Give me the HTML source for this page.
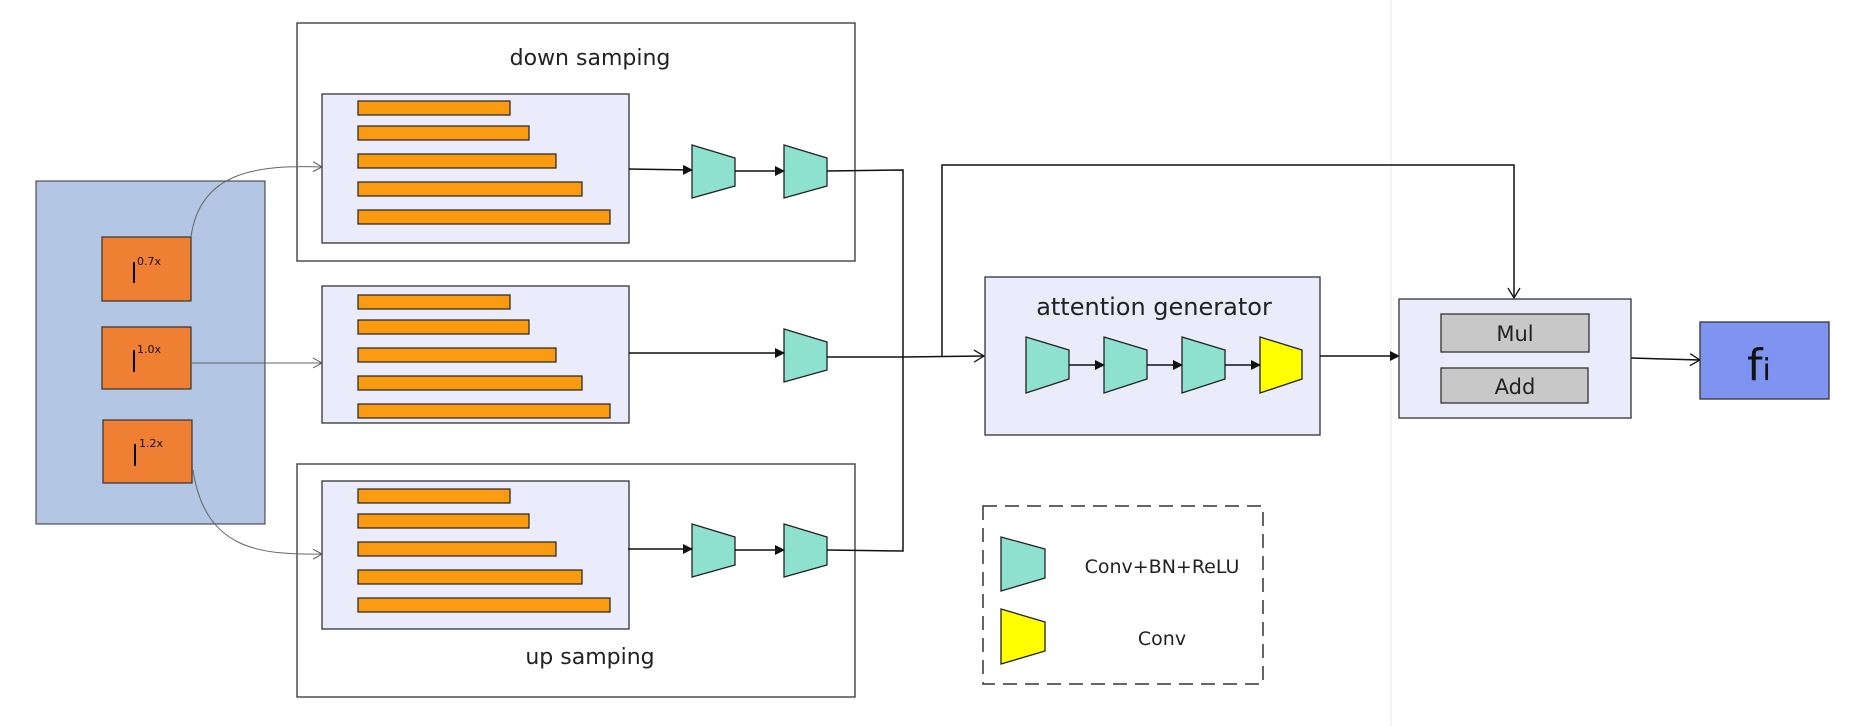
<!DOCTYPE html>
<html><head><meta charset="utf-8"><style>
html,body{margin:0;padding:0;background:#fff;}
svg{display:block;font-family:"DejaVu Sans","Liberation Sans",sans-serif;}
</style></head><body>
<svg width="1868" height="726" viewBox="0 0 1868 726" xmlns="http://www.w3.org/2000/svg">
<defs>
<marker id="a" markerWidth="10" markerHeight="10" refX="9" refY="5" orient="auto" markerUnits="userSpaceOnUse"><path d="M0,0 L10,5 L0,10 z" fill="#111"/></marker>
<marker id="o" markerWidth="12" markerHeight="12" refX="10" refY="6" orient="auto" markerUnits="userSpaceOnUse"><path d="M1,1 L10,6 L1,11" fill="none" stroke="#555" stroke-width="1"/></marker>
<marker id="o2" markerWidth="14" markerHeight="14" refX="12" refY="7" orient="auto" markerUnits="userSpaceOnUse"><path d="M2,1 L12,7 L2,13" fill="none" stroke="#111" stroke-width="1.3"/></marker>
<g id="bars" fill="#fb9b12" stroke="#222" stroke-width="1.2">
<rect x="0" y="0" width="152" height="14"/>
<rect x="0" y="25" width="171" height="14"/>
<rect x="0" y="53" width="198" height="14"/>
<rect x="0" y="81" width="224" height="14"/>
<rect x="0" y="109" width="252" height="14"/>
</g>
<path id="tz" d="M0,0 L43,13 L43,41 L0,53 z" stroke="#222" stroke-width="1.3"/>
</defs>
<line x1="1391" y1="0" x2="1391" y2="726" stroke="#e8e8e8" stroke-width="1"/>
<!-- left panel -->
<rect x="36" y="181" width="229" height="343" fill="#b3c6e4" stroke="#333" stroke-width="1"/>
<g fill="#ee7f33" stroke="#333" stroke-width="1.2">
<rect x="102" y="237" width="89" height="64"/>
<rect x="102" y="327" width="89" height="62"/>
<rect x="103" y="420" width="89" height="63"/>
</g>
<g stroke="#000" stroke-width="2"><line x1="134" y1="262" x2="134" y2="283"/><line x1="134" y1="350" x2="134" y2="372"/><line x1="135" y1="444" x2="135" y2="466"/></g>
<g font-size="11" fill="#111"><text x="137" y="265">0.7x</text><text x="137" y="353">1.0x</text><text x="139" y="447">1.2x</text></g>
<!-- down box -->
<rect x="297" y="23" width="558" height="238" fill="#fff" stroke="#333" stroke-width="1.3"/>
<text x="590" y="65" font-size="22" text-anchor="middle" fill="#222">down samping</text>
<rect x="322" y="94" width="307" height="149" fill="#eaecfb" stroke="#333" stroke-width="1.3"/>
<use href="#bars" x="358" y="101"/>
<!-- middle -->
<rect x="322" y="286" width="307" height="137" fill="#eaecfb" stroke="#333" stroke-width="1.3"/>
<use href="#bars" x="358" y="295"/>
<!-- up box -->
<rect x="297" y="464" width="558" height="233" fill="#fff" stroke="#333" stroke-width="1.3"/>
<text x="590" y="664" font-size="22" text-anchor="middle" fill="#222">up samping</text>
<rect x="322" y="481" width="307" height="148" fill="#eaecfb" stroke="#333" stroke-width="1.3"/>
<use href="#bars" x="358" y="489"/>
<!-- input connectors -->
<path d="M191,237 C200,170 260,165 322,167" fill="none" stroke="#666" stroke-width="1" marker-end="url(#o)"/>
<path d="M191,363 L322,363" fill="none" stroke="#666" stroke-width="1" marker-end="url(#o)"/>
<path d="M193,470 C205,550 260,555 322,554" fill="none" stroke="#666" stroke-width="1" marker-end="url(#o)"/>
<!-- trapezoids in branches -->
<g fill="#8ee0cf">
<use href="#tz" x="692" y="145"/><use href="#tz" x="784" y="145"/>
<use href="#tz" x="784" y="329"/>
<use href="#tz" x="692" y="524"/><use href="#tz" x="784" y="524"/>
</g>
<g stroke="#111" stroke-width="1.5" fill="none">
<line x1="629" y1="169" x2="692" y2="170" marker-end="url(#a)"/>
<line x1="735" y1="171" x2="784" y2="171" marker-end="url(#a)"/>
<path d="M827,171 L903,170 L903,551 L827,550"/>
<line x1="629" y1="353" x2="784" y2="353" marker-end="url(#a)"/>
<line x1="628" y1="549" x2="692" y2="549" marker-end="url(#a)"/>
<line x1="735" y1="550" x2="784" y2="550" marker-end="url(#a)"/>
<path d="M827,357 L903,357 L984,356" marker-end="url(#o2)"/>
<path d="M942,356 L942,165 L1514,165 L1514,298" marker-end="url(#o2)"/>
</g>
<!-- attention generator -->
<rect x="985" y="277" width="335" height="158" fill="#eaecfb" stroke="#333" stroke-width="1.3"/>
<text x="1154" y="315" font-size="24" text-anchor="middle" fill="#222">attention generator</text>
<path d="M1026,337 L1069,350 L1069,379 L1026,393 z" fill="#8ee0cf" stroke="#222" stroke-width="1.3"/>
<path d="M1104,337 L1147,350 L1147,379 L1104,393 z" fill="#8ee0cf" stroke="#222" stroke-width="1.3"/>
<path d="M1182,337 L1225,350 L1225,379 L1182,393 z" fill="#8ee0cf" stroke="#222" stroke-width="1.3"/>
<path d="M1260,337 L1302,350 L1302,379 L1260,393 z" fill="#ffff00" stroke="#222" stroke-width="1.3"/>
<g stroke="#111" stroke-width="1.5" fill="none">
<line x1="1069" y1="365" x2="1104" y2="365" marker-end="url(#a)"/>
<line x1="1147" y1="365" x2="1182" y2="365" marker-end="url(#a)"/>
<line x1="1225" y1="365" x2="1260" y2="365" marker-end="url(#a)"/>
<line x1="1320" y1="356" x2="1399" y2="356" marker-end="url(#a)"/>
<line x1="1631" y1="358" x2="1700" y2="360" marker-end="url(#o2)"/>
</g>
<!-- mul/add -->
<rect x="1399" y="299" width="232" height="119" fill="#eaecfb" stroke="#333" stroke-width="1.3"/>
<rect x="1441" y="314" width="148" height="38" fill="#c8c8c8" stroke="#333" stroke-width="1.3"/>
<rect x="1441" y="368" width="147" height="35" fill="#c8c8c8" stroke="#333" stroke-width="1.3"/>
<text x="1515" y="341" font-size="21" text-anchor="middle" fill="#222">Mul</text>
<text x="1515" y="394" font-size="21" text-anchor="middle" fill="#222">Add</text>
<!-- fi -->
<rect x="1700" y="322" width="129" height="77" fill="#7f94f0" stroke="#333" stroke-width="1.3"/>
<text x="1747" y="380" font-size="44" fill="#111">f<tspan font-size="30">i</tspan></text>
<!-- legend -->
<rect x="983" y="506" width="280" height="178" fill="none" stroke="#333" stroke-width="1.5" stroke-dasharray="14,8"/>
<path d="M1001,537 L1045,549 L1045,578 L1001,591 z" fill="#8ee0cf" stroke="#222" stroke-width="1.3"/>
<path d="M1001,609 L1045,622 L1045,651 L1001,664 z" fill="#ffff00" stroke="#222" stroke-width="1.3"/>
<text x="1162" y="573" font-size="19" text-anchor="middle" fill="#222">Conv+BN+ReLU</text>
<text x="1162" y="645" font-size="19" text-anchor="middle" fill="#222">Conv</text>
</svg>
</body></html>
